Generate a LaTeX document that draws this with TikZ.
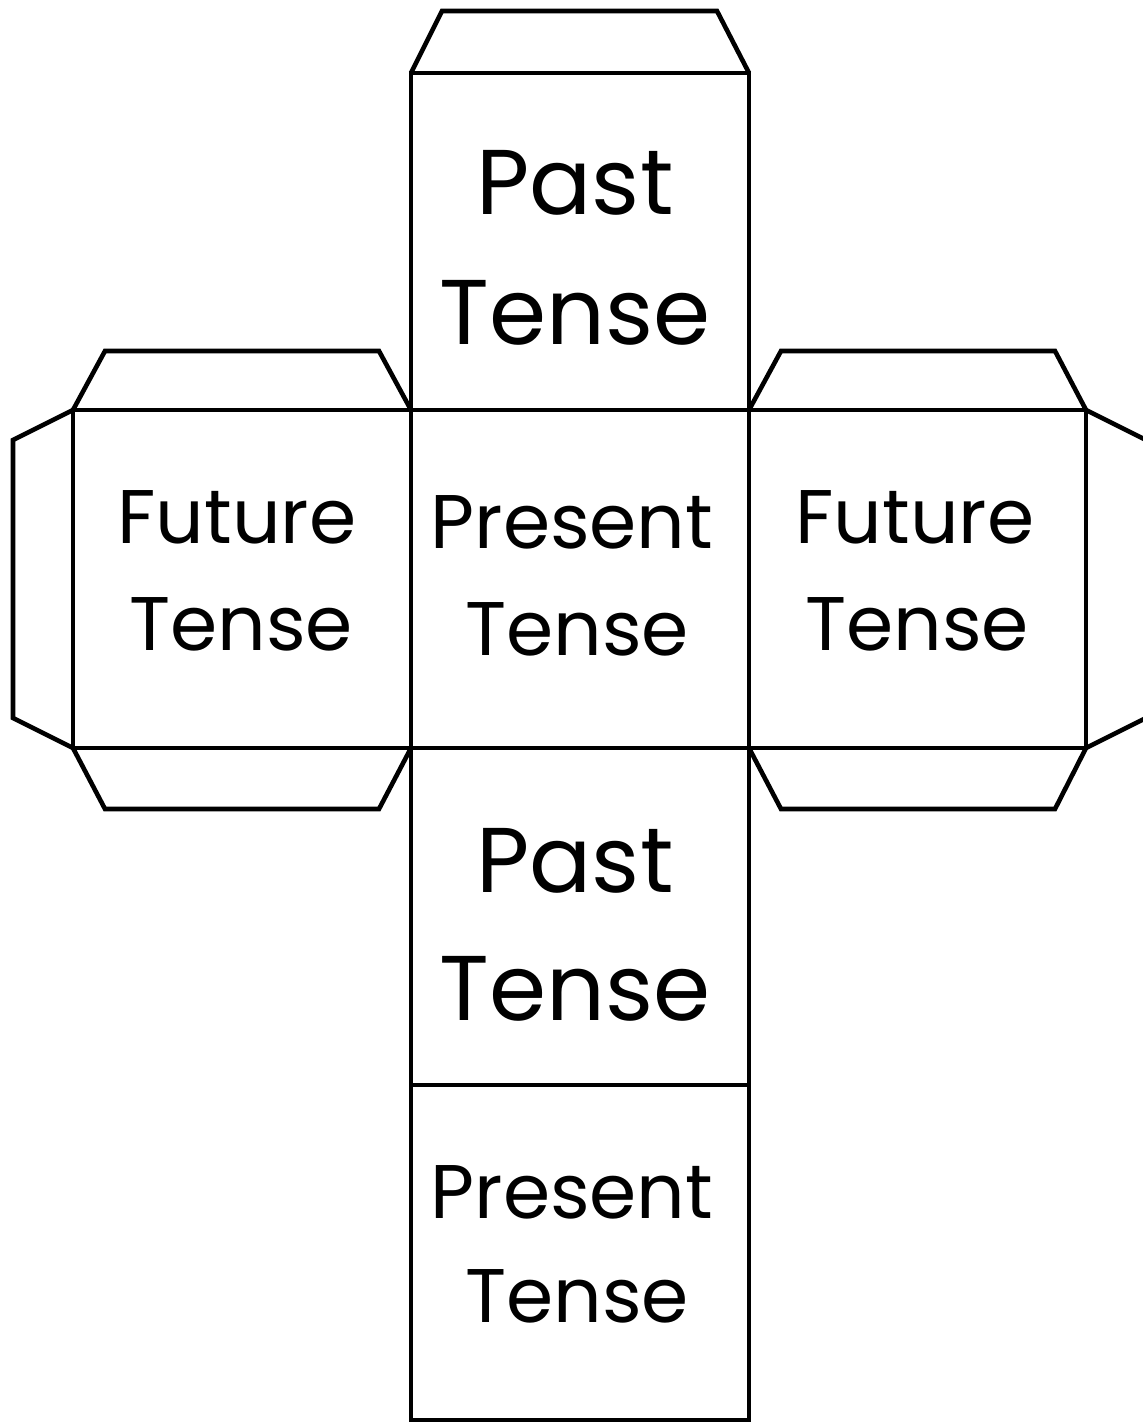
\documentclass[tikz,border=0pt]{standalone}
\usepackage{fontspec}
\setmainfont{Poppins}
\begin{document}
\begin{tikzpicture}[x=0.5pt,y=-0.5pt,
  edge/.style={line width=2.3pt,line join=miter},
  big/.style={anchor=base,inner sep=0pt,font=\fontsize{46}{46}\selectfont},
  small/.style={anchor=base,inner sep=0pt,font=\fontsize{38}{38}\selectfont}]
\useasboundingbox (0,0) rectangle (1143,1422);
\clip (0,0) rectangle (1143,1422);
% faces
\draw[edge] (411,73) rectangle (749,410);
\draw[edge] (73,410) rectangle (411,748);
\draw[edge] (411,410) rectangle (749,748);
\draw[edge] (749,410) rectangle (1086,748);
\draw[edge] (411,748) rectangle (749,1085);
\draw[edge] (411,1085) rectangle (749,1420);
% tabs
\draw[edge] (411,73) -- (442,11) -- (717,11) -- (749,73);
\draw[edge] (73,410) -- (105,351) -- (379,351) -- (411,410);
\draw[edge] (73,748) -- (105,809) -- (379,809) -- (411,748);
\draw[edge] (73,410) -- (13,440) -- (13,718) -- (73,748);
\draw[edge] (749,410) -- (781,351) -- (1055,351) -- (1086,410);
\draw[edge] (749,748) -- (781,809) -- (1055,809) -- (1086,748);
\draw[edge] (1086,410) -- (1146,440) -- (1146,718) -- (1086,748);
% labels
\node[big] (t1) at (575,215) {Past};
\node[big] (t2) at (575,345) {Tense};
\node[small] (l1) at (237,543) {Future};
\node[small] (l2) at (241,650) {Tense};
\node[small] (c1) at (572,548) {Present};
\node[small] (c2) at (577,655) {Tense};
\node[small] (r1) at (915,543) {Future};
\node[small] (r2) at (917,650) {Tense};
\node[big] (b1) at (575,892) {Past};
\node[big] (b2) at (575,1020) {Tense};
\node[small] (d1) at (572,1218) {Present};
\node[small] (d2) at (577,1322) {Tense};
\end{tikzpicture}
\end{document}
